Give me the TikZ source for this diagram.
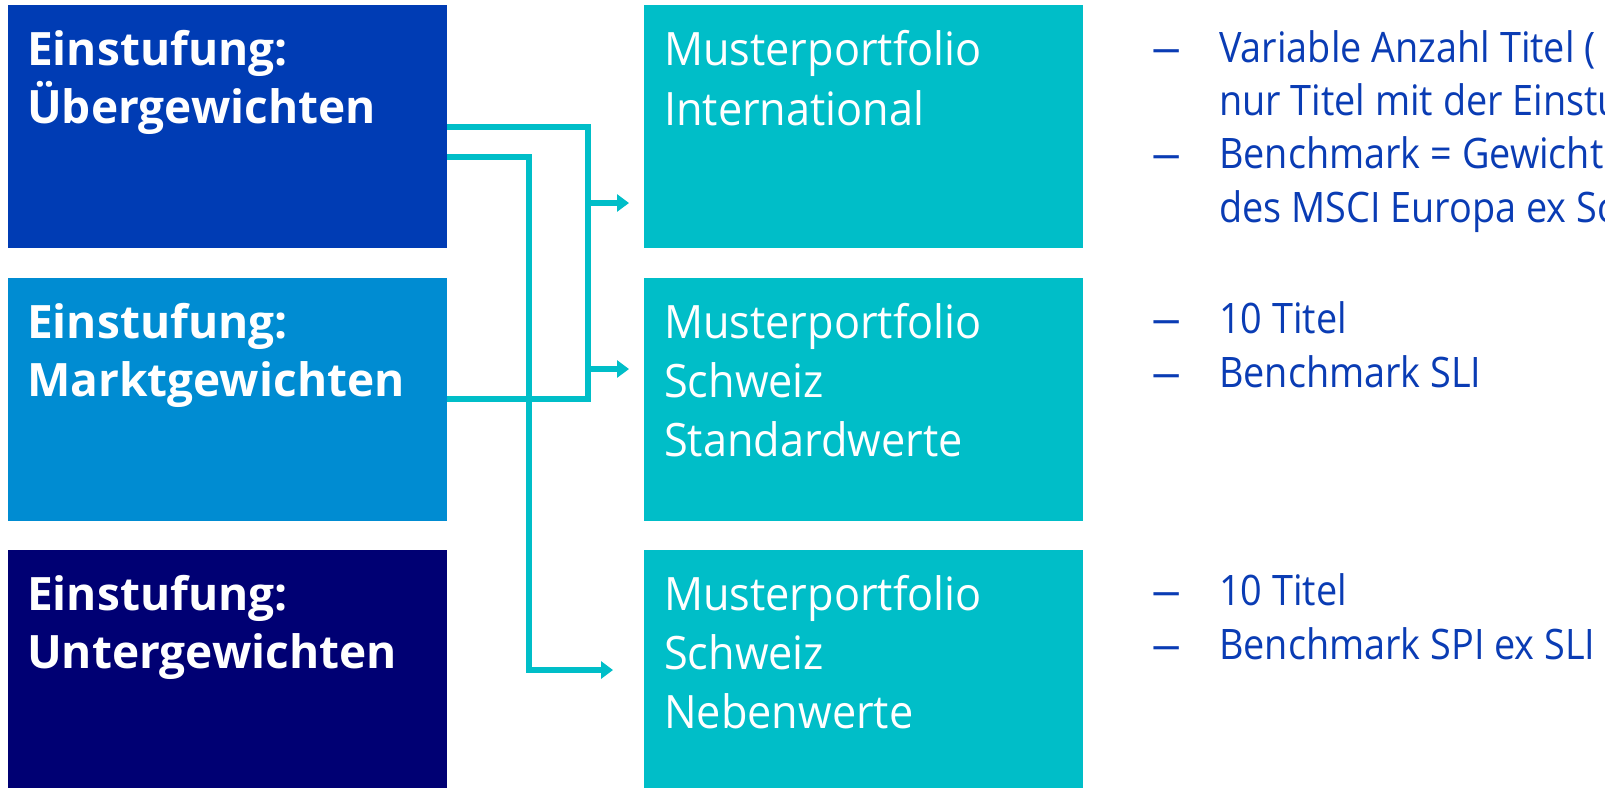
\documentclass[tikz,border=0pt]{standalone}
\usepackage{fontspec}
\setmainfont{Open Sans}
\newfontfamily\midfont[FakeStretch=0.94]{Open Sans}
\newfontfamily\rightfont[FakeStretch=0.9]{Open Sans}
\usetikzlibrary{arrows.meta,calc}
\definecolor{cOver}{RGB}{0,60,180}
\definecolor{cMarkt}{RGB}{0,140,210}
\definecolor{cUnter}{RGB}{0,0,115}
\definecolor{cTeal}{RGB}{0,190,200}
\definecolor{cText}{RGB}{10,60,180}
\begin{document}
\begin{tikzpicture}[x=1pt,y=-1pt,
  box/.style={draw=none,inner sep=0pt,outer sep=0pt,anchor=north west,minimum width=439pt,minimum height=243pt},
  lefttxt/.style={font=\fontsize{46}{58}\selectfont\bfseries,text=white,anchor=base west,inner sep=0pt},
  midtxt/.style={font=\midfont\fontsize{46}{59}\selectfont,text=white,anchor=base west,inner sep=0pt},
  righttxt/.style={font=\rightfont\fontsize{42}{54}\selectfont,text=cText,anchor=base west,inner sep=0pt},
  conn/.style={draw=cTeal,line width=5.5pt,line join=miter},
  arr/.style={conn,-{Triangle[length=12pt,width=17pt]}}]
\useasboundingbox[fill=white] (0,0) rectangle (1605,787);

% left boxes
\node[box,fill=cOver]  (b1) at (8,5)   {};
\node[box,fill=cMarkt] (b2) at (8,278) {};
\node[box,fill=cUnter] (b3) at (8,550) {};
% middle boxes
\node[box,fill=cTeal] (m1) at (644,5)   {};
\node[box,fill=cTeal] (m2) at (644,278) {};
\node[box,fill=cTeal] (m3) at (644,550) {};

% left texts
\node[lefttxt] (l1a) at (27,65)  {Einstufung:};
\node[lefttxt] (l1b) at (27,123) {Übergewichten};
\node[lefttxt] (l2a) at (27,338) {Einstufung:};
\node[lefttxt] (l2b) at (27,396) {Marktgewichten};
\node[lefttxt] (l3a) at (27,610) {Einstufung:};
\node[lefttxt] (l3b) at (27,668) {Untergewichten};

% middle texts
\node[midtxt] (t1a) at (664,65)  {Musterportfolio};
\node[midtxt] (t1b) at (664,125) {International};
\node[midtxt] (t2a) at (664,338) {Musterportfolio};
\node[midtxt] (t2b) at (664,397) {Schweiz};
\node[midtxt] (t2c) at (664,456) {Standardwerte};
\node[midtxt] (t3a) at (664,610) {Musterportfolio};
\node[midtxt] (t3b) at (664,669) {Schweiz};
\node[midtxt] (t3c) at (664,728) {Nebenwerte};

% right texts
\node[righttxt] (d1) at (1151,62)  {\scalebox{1.6}[1]{–}};
\node[righttxt] (r1a) at (1219,62)  {Variable Anzahl Titel (};
\node[righttxt] (r1b) at (1219,115) {nur Titel mit der Einstufung};
\node[righttxt] (d2) at (1151,168) {\scalebox{1.6}[1]{–}};
\node[righttxt] (r1c) at (1219,168) {Benchmark = Gewichtung};
\node[righttxt] (r1d) at (1219,222) {des MSCI Europa ex Schweiz};
\node[righttxt] (d3) at (1151,333) {\scalebox{1.6}[1]{–}};
\node[righttxt] (r2a) at (1219,333) {10 Titel};
\node[righttxt] (d4) at (1151,387) {\scalebox{1.6}[1]{–}};
\node[righttxt] (r2b) at (1219,387) {Benchmark SLI};
\node[righttxt] (d5) at (1151,605) {\scalebox{1.6}[1]{–}};
\node[righttxt] (r3a) at (1219,605) {10 Titel};
\node[righttxt] (d6) at (1151,659) {\scalebox{1.6}[1]{–}};
\node[righttxt] (r3b) at (1219,659) {Benchmark SPI ex SLI};

% connectors
\coordinate (s1) at ($(b1.north east)+(0,122)$);
\coordinate (s2) at ($(b1.north east)+(0,152)$);
\coordinate (s3) at ($(b2.north east)+(0,121)$);
\coordinate (jA) at (588,399);
\coordinate (jB) at (529,670);
\coordinate (e1) at ($(m1.north west)+(0,198)$);
\coordinate (e2) at ($(m2.north west)+(0,91)$);
\coordinate (e3) at ($(m3.north west)+(0,120)$);

\draw[conn] (s1) -| (jA) -- (s3);
\draw[arr,shorten >=15pt] (jA |- e1) -- (e1);
\draw[arr,shorten >=15pt] (jA |- e2) -- (e2);
\draw[arr,shorten >=31pt] (s2) -| (jB) -- (e3);
\end{tikzpicture}
\end{document}
